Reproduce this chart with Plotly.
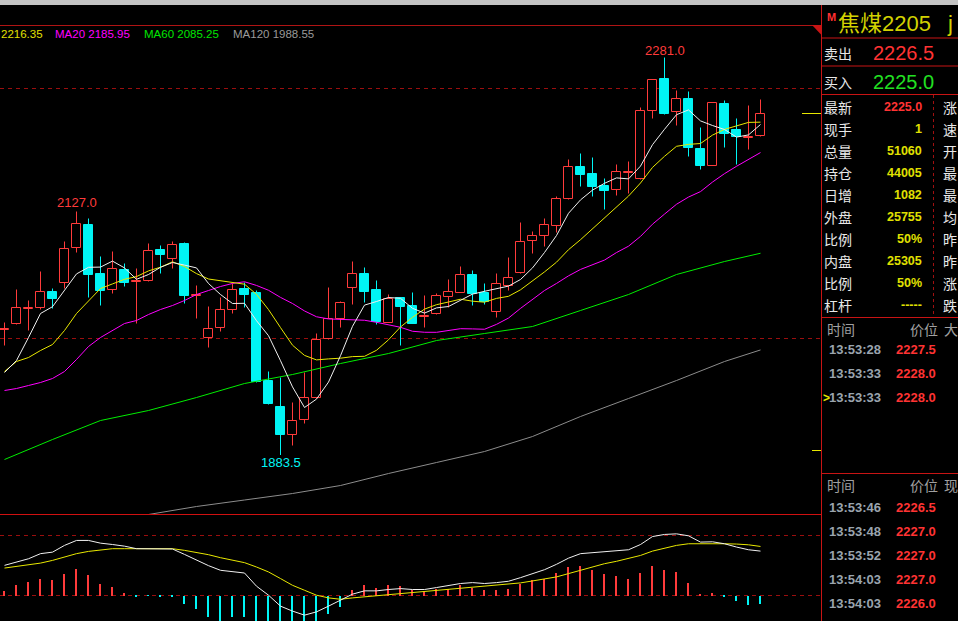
import plotly.graph_objects as go

# ---------------- data ----------------
idx = list(range(64))
opens = [2009, 2015, 2030, 2031, 2047, 2056, 2091, 2114, 2065, 2049,
         2069, 2057, 2058, 2089, 2080, 2095, 2043, 2001, 2011, 2029,
         2050, 2046, 1958, 1932, 1904, 1919, 1941, 2000, 2020, 2051,
         2065, 2049, 2016, 2041, 2033, 2022, 2025, 2042, 2046, 2064,
         2046, 2027, 2053, 2066, 2098, 2103, 2113, 2140, 2172, 2165,
         2153, 2149, 2166, 2160, 2228, 2260, 2227, 2240, 2190, 2173,
         2235, 2209, 2201, 2203]
highs = [2016, 2049, 2038, 2067, 2050, 2097, 2127, 2120, 2082, 2087,
         2075, 2070, 2095, 2093, 2097, 2096, 2053, 2032, 2041, 2055,
         2056, 2048, 1967, 1961, 1936, 1966, 2005, 2051, 2037, 2077,
         2071, 2058, 2044, 2041, 2046, 2043, 2045, 2059, 2072, 2068,
         2055, 2065, 2081, 2116, 2107, 2120, 2142, 2179, 2185, 2181,
         2160, 2174, 2177, 2231, 2259, 2281, 2248, 2247, 2211, 2236,
         2238, 2220, 2233, 2239]
lows = [1993, 2014, 2008, 2029, 2030, 2050, 2086, 2041, 2033, 2045,
        2052, 2015, 2057, 2065, 2070, 2035, 2020, 1991, 2007, 2025,
        2031, 1956, 1934, 1883.5, 1893, 1915, 1940, 1999, 2011, 2034,
        2036, 2014, 2016, 1993, 2015, 2011, 2024, 2031, 2046, 2033,
        2034, 2021, 2048, 2065, 2085, 2092, 2106, 2139, 2152, 2142,
        2129, 2143, 2145, 2159, 2220, 2224, 2213, 2182, 2169, 2173,
        2191, 2174, 2189, 2202]
closes = [2010, 2031, 2031, 2047, 2040, 2090, 2115, 2064, 2048, 2070,
          2056, 2058, 2088, 2084, 2094, 2043, 2044, 2010, 2029, 2049,
          2044, 1957, 1935, 1904, 1918, 1941, 1999, 2020, 2036, 2065,
          2047, 2017, 2040, 2032, 2015, 2023, 2043, 2047, 2064, 2045,
          2037, 2055, 2061, 2097, 2103, 2114, 2140, 2172, 2164, 2152,
          2148, 2167, 2167, 2228, 2259, 2225, 2240, 2191, 2173, 2236,
          2205, 2202, 2202, 2225]

ma5 = [1966, 1978, 2001, 2025, 2031.8, 2047.8, 2064.6, 2071.2, 2071.4, 2077.4,
       2070.6, 2059.2, 2064.0, 2071.2, 2076.0, 2073.4, 2070.6, 2055.0, 2044.0, 2035.0,
       2035.2, 2017.8, 2002.8, 1977.8, 1951.6, 1931.0, 1939.4, 1956.4, 1982.8, 2012.2,
       2033.4, 2037.0, 2041.0, 2040.2, 2030.2, 2025.4, 2030.6, 2032.0, 2038.4, 2044.4,
       2047.2, 2049.6, 2052.4, 2059.0, 2070.6, 2086.0, 2103.0, 2125.2, 2138.6, 2148.4,
       2155.2, 2160.6, 2159.6, 2172.4, 2193.8, 2209.2, 2223.8, 2228.6, 2217.6, 2213.0,
       2209.0, 2201.4, 2203.6, 2214.0]
ma10 = [1967, 1977, 1981, 1988, 1994, 2008, 2025, 2038, 2050, 2054.6,
        2059.2, 2061.9, 2067.6, 2071.3, 2076.7, 2072.0, 2064.9, 2059.5, 2057.6, 2055.5,
        2054.3, 2044.2, 2028.9, 2010.9, 1993.3, 1983.1, 1978.6, 1979.6, 1980.3, 1981.9,
        1982.2, 1988.2, 1998.7, 2011.5, 2021.2, 2029.4, 2033.8, 2036.5, 2039.3, 2037.3,
        2036.3, 2040.1, 2042.2, 2048.7, 2057.5, 2066.6, 2076.3, 2088.8, 2098.8, 2109.5,
        2120.6, 2131.8, 2142.4, 2155.5, 2171.1, 2182.2, 2192.2, 2194.1, 2195.0, 2203.4,
        2209.1, 2212.6, 2216.1, 2216.35]
ma20 = [1948, 1950, 1953, 1956, 1960, 1967, 1979, 1992, 2001, 2008,
        2015, 2018, 2024, 2029, 2033, 2038, 2044, 2048, 2052, 2055.05,
        2056.75, 2053.05, 2048.25, 2041.1, 2035.0, 2027.55, 2021.75, 2019.55, 2018.95, 2018.7,
        2018.25, 2016.2, 2013.8, 2011.2, 2007.25, 2006.25, 2006.2, 2008.05, 2009.8, 2009.6,
        2009.25, 2014.15, 2020.45, 2030.1, 2039.35, 2048.0, 2055.05, 2062.65, 2069.05, 2073.4,
        2078.45, 2085.95, 2092.3, 2102.1, 2114.3, 2124.4, 2134.25, 2141.45, 2146.9, 2156.45,
        2164.85, 2172.2, 2179.25, 2185.95]
ma60_idx = [0, 4, 8, 12, 16, 20, 24, 28, 32, 36, 40, 44, 48, 52, 56, 60, 63]
ma60_val = [1879, 1899, 1918, 1928, 1941, 1955, 1964, 1975, 1985, 1998,
            2005, 2012, 2028, 2044, 2064, 2077, 2085.25]
ma120_idx = [12, 16, 20, 24, 28, 32, 36, 40, 44, 48, 52, 56, 60, 63]
ma120_val = [1824, 1832, 1838.5, 1845, 1853, 1865, 1876, 1887, 1902, 1922,
             1940, 1958, 1977, 1988.55]

macd_hist = [3.0, 6.8, 9.0, 10.8, 10.2, 14.1, 17.5, 13.5, 7.5, 5.5,
             1.5, -0.5, -0.2, -0.5, -0.5, -5.8, -9.1, -14.6, -16.8, -14.6,
             -14.6, -25.6, -31.0, -36.8, -34.4, -33.2, -22.2, -12.0, -7.5, 3.5,
             6.8, 5.3, 6.8, 6.2, 3.5, 2.4, 4.2, 4.6, 6.8, 5.3,
             3.5, 3.5, 4.2, 8.0, 10.2, 11.3, 14.8, 18.8, 19.4, 16.8,
             14.1, 12.8, 10.8, 14.8, 19.4, 16.8, 15.5, 8.2, 0.9, 1.5,
             -1.1, -3.8, -6.4, -5.8]
dif = [20.1, 22.3, 24.5, 27.9, 28.9, 33.4, 36.7, 36.7, 34.9, 34.0,
       32.9, 31.2, 31.0, 31.0, 31.0, 27.4, 23.4, 19.9, 16.8, 16.1,
       15.0, 6.2, 0.2, -7.1, -10.4, -13.1, -10.9, -7.1, -3.1, 0.9,
       3.1, 3.1, 4.0, 4.6, 4.0, 4.0, 5.3, 6.8, 8.0, 8.6,
       8.0, 8.6, 9.5, 11.9, 14.6, 17.2, 20.8, 24.9, 27.9, 28.5,
       29.2, 29.9, 30.5, 34.0, 39.3, 40.7, 41.1, 39.8, 35.6, 35.8,
       34.5, 32.3, 30.5, 29.6]
dea = [18.3, 19.4, 20.5, 21.6, 23.4, 25.6, 27.9, 29.4, 30.5, 31.2,
       31.2, 31.2, 31.2, 31.2, 31.2, 30.1, 28.9, 27.2, 25.2, 23.4,
       21.9, 19.0, 15.7, 11.3, 6.8, 3.5, 0.2, -1.6, -2.5, -1.6,
       -0.9, -0.2, 0.7, 1.3, 2.2, 2.9, 3.5, 4.2, 4.8, 5.5,
       6.2, 6.6, 7.3, 8.4, 9.7, 11.0, 12.4, 14.6, 16.8, 19.0,
       21.2, 22.8, 24.5, 26.7, 29.6, 31.6, 33.4, 34.5, 34.5, 34.9,
       34.5, 34.3, 33.8, 32.7]

legend_texts = ["2216.35", "MA20 2185.95", "MA60 2085.25", "MA120 1988.55"]
extreme_labels = [(55, 2281.0, "2281.0"), (6, 2127.0, "2127.0"), (23, 1883.5, "1883.5")]

title_name = "焦煤2205"
title_code = "j"
ask_label, ask_price = "卖出", "2226.5"
bid_label, bid_price = "买入", "2225.0"
quote_labels = ["最新", "现手", "总量", "持仓", "日增", "外盘", "比例", "内盘", "比例", "杠杆"]
quote_values = ["2225.0", "1", "51060", "44005", "1082", "25755", "50%", "25305", "50%", "-----"]
quote_right = ["涨", "速", "开", "最", "最", "均", "昨", "昨", "涨", "跌"]
tick1_times = ["13:53:28", "13:53:33", "13:53:33"]
tick1_prices = ["2227.5", "2228.0", "2228.0"]
tick2_times = ["13:53:46", "13:53:48", "13:53:52", "13:54:03", "13:54:03"]
tick2_prices = ["2226.5", "2227.0", "2227.0", "2227.0", "2226.0"]
last_price = 2225.0

# ---------------- styling ----------------
RED = '#ff3b3b'
CYAN = '#00f5f5'
FONT = "Liberation Sans, Noto Sans CJK SC"
CJK = "Noto Sans CJK SC"
W, H, WP = 958, 621, 820


def X(px):
    return px / WP


def Y(py):
    return (H - py) / H


fig = go.Figure()

# candles: bodies
up = [i for i in idx if closes[i] >= opens[i]]
dn = [i for i in idx if closes[i] < opens[i]]


def body(i):
    lo, hi = min(opens[i], closes[i]), max(opens[i], closes[i])
    return lo, max(hi - lo, 1.0)


# wicks
def wick_xy(ids, split):
    xs, ys = [], []
    for i in ids:
        lo, hi = min(opens[i], closes[i]), max(opens[i], closes[i])
        if split:
            xs += [i, i, None, i, i, None]
            ys += [highs[i], hi, None, lo, lows[i], None]
        else:
            xs += [i, i, None]
            ys += [highs[i], lows[i], None]
    return xs, ys


wx, wy = wick_xy(up, True)
fig.add_trace(go.Scatter(x=wx, y=wy, mode='lines', line=dict(color=RED, width=1),
                         hoverinfo='skip'))
wx, wy = wick_xy(dn, False)
fig.add_trace(go.Scatter(x=wx, y=wy, mode='lines', line=dict(color=CYAN, width=1),
                         hoverinfo='skip'))

fig.add_trace(go.Bar(x=up, base=[body(i)[0] for i in up], y=[body(i)[1] for i in up],
                     width=0.78, marker=dict(color='black', line=dict(color=RED, width=1)),
                     hoverinfo='skip'))
fig.add_trace(go.Bar(x=dn, base=[body(i)[0] for i in dn], y=[body(i)[1] for i in dn],
                     width=0.78, marker=dict(color=CYAN, line=dict(color=CYAN, width=1)),
                     hoverinfo='skip'))

# moving averages
for xs, ys, col in [(ma120_idx, ma120_val, '#8c8c8c'), (ma60_idx, ma60_val, '#00ee00'),
                    (idx, ma20, '#ff00ff'), (idx, ma10, '#e8e800'), (idx, ma5, '#f0f0f0')]:
    fig.add_trace(go.Scatter(x=xs, y=ys, mode='lines', line=dict(color=col, width=1),
                             hoverinfo='skip'))

# MACD
hpos = [i for i in idx if macd_hist[i] >= 0]
hneg = [i for i in idx if macd_hist[i] < 0]
fig.add_trace(go.Bar(x=hpos, y=[macd_hist[i] for i in hpos], width=0.09, yaxis='y2',
                     marker=dict(color=RED, line=dict(width=0)), hoverinfo='skip'))
fig.add_trace(go.Bar(x=hneg, y=[macd_hist[i] for i in hneg], width=0.09, yaxis='y2',
                     marker=dict(color=CYAN, line=dict(width=0)), hoverinfo='skip'))
fig.add_trace(go.Scatter(x=idx, y=dea, yaxis='y2', mode='lines',
                         line=dict(color='#e8e800', width=1), hoverinfo='skip'))
fig.add_trace(go.Scatter(x=idx, y=dif, yaxis='y2', mode='lines',
                         line=dict(color='#f0f0f0', width=1), hoverinfo='skip'))

# ---------------- shapes ----------------
shapes = []
PRED = '#c81414'


def hline(py, x0, x1, color, dash='solid', width=1):
    shapes.append(dict(type='line', xref='paper', yref='paper', x0=X(x0), x1=X(x1),
                       y0=Y(py), y1=Y(py), line=dict(color=color, width=width, dash=dash)))


def vline(px, y0, y1, color, dash='solid', width=1):
    shapes.append(dict(type='line', xref='paper', yref='paper', x0=X(px), x1=X(px),
                       y0=Y(y0), y1=Y(y1), line=dict(color=color, width=width, dash=dash)))


# top grey bar
shapes.append(dict(type='rect', xref='paper', yref='paper', x0=X(0), x1=X(W), y0=Y(5), y1=Y(0),
                   fillcolor='#c4c4c4', line=dict(width=0)))
hline(25.5, 0, 821, '#b01414')
shapes.append(dict(type='path', xref='paper', yref='paper',
                   path='M %f %f L %f %f L %f %f Z' % (X(812), Y(25), X(821.5), Y(25), X(821.5), Y(35)),
                   fillcolor='#c81414', line=dict(width=0)))
# panel frame
vline(821.5, 5, 621, PRED)
for py in (38, 66, 94.5, 317.5, 473.5):
    hline(py, 821, W, PRED)
vline(933.5, 95, 317, '#a01010', dash='3px,3px')
# pane separator
hline(514.5, 0, 821, '#d01010')
# grid dashed lines (data-referenced)
for val, yref in ((2250, 'y'), (2000, 'y'), (40, 'y2'), (0, 'y2')):
    shapes.append(dict(type='line', xref='paper', yref=yref, x0=0, x1=X(821), y0=val, y1=val,
                       layer='below', line=dict(color='#9a0e0e', width=1, dash='4px,4px')))
# latest price marker
shapes.append(dict(type='line', xref='paper', yref='y', x0=X(802), x1=X(821), y0=last_price,
                   y1=last_price, line=dict(color='#e8e800', width=1)))
hline(450.5, 812, 821, '#e8e800')

# ---------------- annotations ----------------
ann = []


def txt(x, y, s, color, size, anchor='left', bold=False, family=FONT):
    ann.append(dict(xref='paper', yref='paper', x=X(x), y=Y(y),
                    text=('<b>%s</b>' % s) if bold else s, showarrow=False,
                    xanchor=anchor, yanchor='middle', borderpad=0,
                    font=dict(color=color, size=size, family=family)))


# top legend
for s, x0, col in zip(legend_texts, [0, 54, 143, 232], ['#e0e000', '#ff00ff', '#00e600', '#9a9a9a']):
    txt(x0, 33.5, s, col, 11.5)

# extreme labels
for (i, v, s), ys in zip(extreme_labels, [7, 9, -7]):
    ann.append(dict(xref='x', yref='y', x=i, y=v, text=s, showarrow=False, yshift=ys,
                    xanchor='center', yanchor='middle', borderpad=0,
                    font=dict(color=CYAN if ys < 0 else RED, size=13, family=FONT)))

# right panel header
txt(826, 17, 'M', '#ff3030', 11, bold=True)
txt(837, 23, title_name, '#d2d200', 22)
txt(946, 23, title_code, '#d2d200', 22)
txt(823, 53, ask_label, '#e8e8e8', 14, family=CJK)
txt(872, 53, ask_price, '#ff3333', 20)
txt(823, 82, bid_label, '#e8e8e8', 14, family=CJK)
txt(872, 82, bid_price, '#22e022', 20)

for k, (lab, val, rlab) in enumerate(zip(quote_labels, quote_values, quote_right)):
    yy = 107 + 22 * k
    txt(823, yy, lab, '#e8e8e8', 14, family=CJK)
    txt(923, yy, val, '#ff3333' if k == 0 else '#e0e000', 12.5, anchor='right', bold=True)
    txt(942, yy, rlab, '#e8e8e8', 14, family=CJK)

# tick lists
for hy, third in ((329, '大'), (485, '现')):
    txt(826, hy, '时间', '#a0a0a0', 14, family=CJK)
    txt(909, hy, '价位', '#a0a0a0', 14, family=CJK)
    txt(943, hy, third, '#a0a0a0', 14, family=CJK)
for k, (t, p) in enumerate(zip(tick1_times, tick1_prices)):
    yy = 349.5 + 24 * k
    txt(828, yy, t, '#9aa4ae', 13, bold=True)
    txt(937, yy, p, '#ff3333', 13, anchor='right', bold=True)
txt(822, 397.5, '>', '#e8e800', 12, bold=True)
for k, (t, p) in enumerate(zip(tick2_times, tick2_prices)):
    yy = 507.5 + 24 * k
    txt(828, yy, t, '#9aa4ae', 13, bold=True)
    txt(937, yy, p, '#ff3333', 13, anchor='right', bold=True)

fig.update_layout(
    width=W, height=H, margin=dict(l=0, r=W - WP, t=0, b=0),
    paper_bgcolor='black', plot_bgcolor='black', showlegend=False,
    barmode='overlay', bargap=0,
    xaxis=dict(range=[-0.375, 67.958], visible=False, fixedrange=True),
    yaxis=dict(range=[1824.5, 2313.5], domain=[Y(514), Y(25)], visible=False),
    yaxis2=dict(range=[-17.0, 54.333], domain=[0, Y(514)], visible=False, anchor='x'),
    shapes=shapes, annotations=ann,
)

fig.write_html("out.html", config={'displayModeBar': False},
               post_script="document.body.style.margin='0';document.body.style.overflow='hidden';document.body.style.background='black';")
